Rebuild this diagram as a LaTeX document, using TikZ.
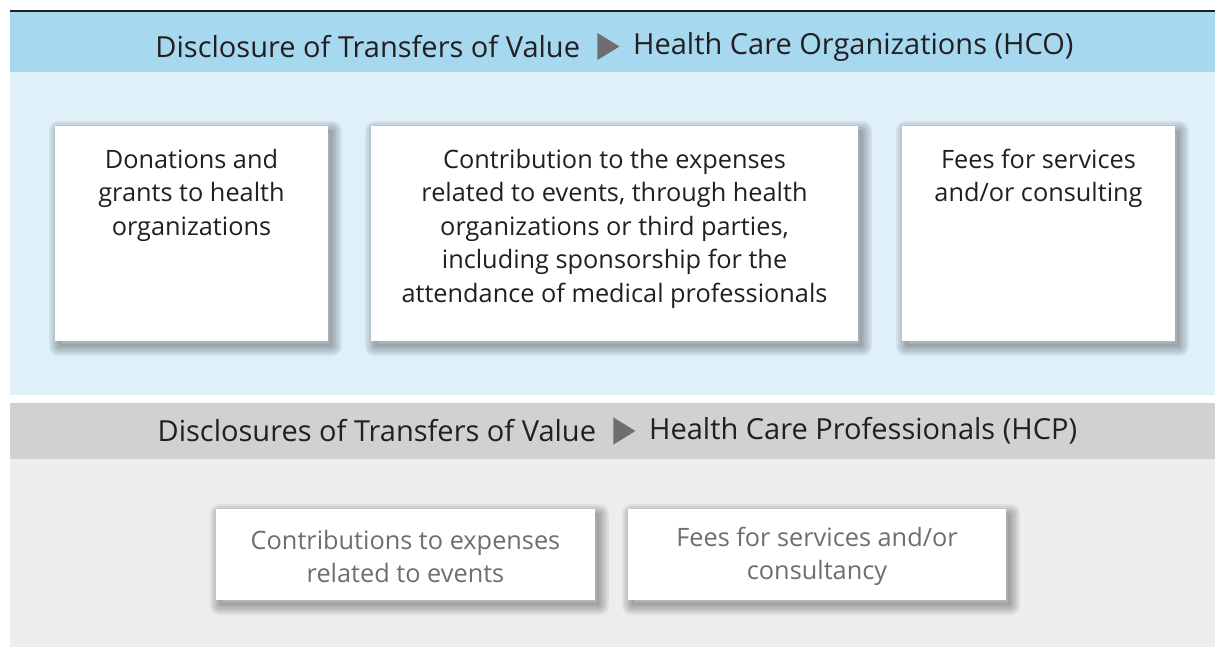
\documentclass[tikz,border=0pt]{standalone}
\usepackage{fontspec}
\setmainfont{Open Sans}
\usetikzlibrary{shapes.geometric}
\definecolor{hcoband}{RGB}{166,216,240}
\definecolor{hcobody}{RGB}{223,240,248}
\definecolor{hcpband}{RGB}{208,209,211}
\definecolor{hcpbody}{RGB}{237,237,237}
\definecolor{inkdark}{RGB}{35,31,32}
\definecolor{inkgray}{RGB}{109,110,113}
\definecolor{arrowgray}{RGB}{110,110,112}
\tikzset{
  shadowring/.style={preaction={draw=black, draw opacity=0.06, line width=#1, line join=round,
    transform canvas={shift={(4pt,-5pt)}}}},
  card/.style={fill=white, draw=none, inner sep=0pt,
    preaction={fill=black, fill opacity=0.06, transform canvas={shift={(4pt,-5pt)}}},
    shadowring=20pt, shadowring=16pt, shadowring=12pt, shadowring=8pt, shadowring=4pt},
  cardtext/.style={align=center, inner sep=0pt, font=\fontsize{25.3}{33.5}\selectfont},
  headtext/.style={inner sep=0pt, text=inkdark, font=\fontsize{29}{34}\selectfont},
  pointer/.style={isosceles triangle, isosceles triangle stretches=true, fill=arrowgray,
    draw=none, inner sep=0pt, minimum width=27pt, minimum height=22pt}
}
\begin{document}
\begin{tikzpicture}[x=1pt, y=-1pt]
\useasboundingbox (0,0) rectangle (1215,647);
% section backgrounds
\fill[hcoband] (10,12) rectangle (1215,72);
\fill[hcobody] (10,72) rectangle (1215,395);
\fill[hcpband] (10,403) rectangle (1215,459);
\fill[hcpbody] (10,459) rectangle (1215,647);
\draw[inkdark, line width=2.5pt] (10,11) -- (1215,11);

% HCO heading
\node[pointer] (p1) at (605,46.5) {};
\node[headtext, anchor=east] (h1a) at ([xshift=-17pt]p1.west) {Disclosure of Transfers of Value};
\node[headtext, anchor=west] (h1b) at ([xshift=13pt]p1.east) {Health Care Organizations (HCO)};

% HCO cards
\node[card, minimum width=273pt, minimum height=215pt] (c1) at (191.5,233.5) {};
\node[card, minimum width=487pt, minimum height=215pt] (c2) at (614.5,233.5) {};
\node[card, minimum width=273pt, minimum height=215pt] (c3) at (1038.5,233.5) {};
\node[cardtext, text=inkdark, anchor=north] (t1) at ([yshift=-23pt]c1.north) {Donations and\\grants to health\\organizations};
\node[cardtext, text=inkdark, anchor=north] (t2) at ([yshift=-23pt]c2.north) {Contribution to the expenses\\related to events, through health\\organizations or third parties,\\including sponsorship for the\\attendance of medical professionals};
\node[cardtext, text=inkdark, anchor=north] (t3) at ([yshift=-23pt]c3.north) {Fees for services\\and/or consulting};

% HCP heading
\node[pointer] (p2) at (621,431) {};
\node[headtext, anchor=east] (h2a) at ([xshift=-17pt]p2.west) {Disclosures of Transfers of Value};
\node[headtext, anchor=west] (h2b) at ([xshift=13pt]p2.east) {Health Care Professionals (HCP)};

% HCP cards
\node[card, minimum width=379pt, minimum height=91pt] (c4) at (405.5,554.5) {};
\node[card, minimum width=378pt, minimum height=91pt] (c5) at (817,554.5) {};
\node[cardtext, text=inkgray] (t4) at ([yshift=-2pt]c4.center) {Contributions to expenses\\related to events};
\node[cardtext, text=inkgray] (t5) at ([yshift=-2pt]c5.center) {Fees for services and/or\\consultancy};
\end{tikzpicture}
\end{document}
